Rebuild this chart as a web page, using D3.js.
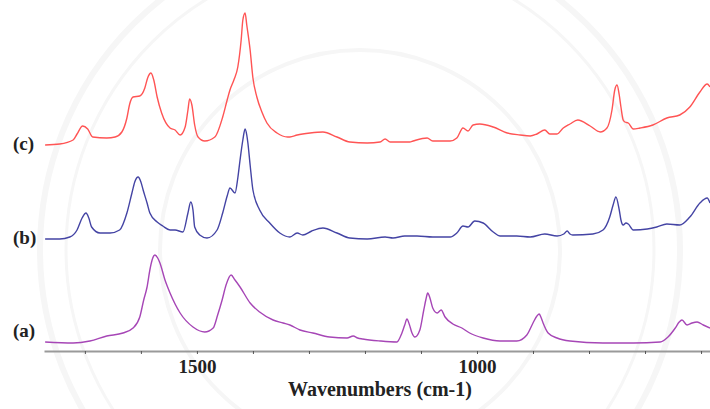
<!DOCTYPE html>
<html>
<head>
<meta charset="utf-8">
<script src="https://cdn.jsdelivr.net/npm/d3@7"></script>
<style>
  html, body { margin: 0; padding: 0; background: #ffffff; }
  svg { display: block; }
</style>
</head>
<body>
<svg id="chart" width="710" height="409"></svg>
<script>
// FTIR spectra, stacked: [wavenumber (cm-1), absorbance incl. stacking offset]
const spectrumA = [
  [1771,0.09],[1721,0.08],[1691,0.10],[1661,0.15],[1632,0.18],[1614,0.23],[1602,0.34],[1595,0.51],
  [1589,0.64],[1584,0.81],[1580,0.91],[1575,0.96],[1570,0.93],[1566,0.88],[1557,0.71],[1548,0.58],
  [1530,0.38],[1507,0.24],[1486,0.19],[1471,0.23],[1463,0.36],[1455,0.51],[1448,0.66],[1439,0.76],
  [1432,0.71],[1423,0.64],[1405,0.48],[1388,0.39],[1364,0.31],[1346,0.28],[1334,0.26],[1316,0.21],
  [1293,0.18],[1263,0.14],[1232,0.13],[1221,0.15],[1213,0.13],[1204,0.12],[1173,0.10],[1143,0.09],
  [1134,0.18],[1129,0.26],[1125,0.32],[1121,0.27],[1116,0.18],[1111,0.14],[1102,0.21],[1095,0.41],
  [1091,0.52],[1088,0.58],[1084,0.53],[1079,0.43],[1071,0.38],[1064,0.41],[1057,0.34],[1043,0.27],
  [1027,0.23],[1013,0.18],[989,0.13],[959,0.10],[929,0.10],[911,0.16],[900,0.28],[893,0.35],
  [889,0.37],[886,0.34],[882,0.28],[873,0.18],[857,0.13],[834,0.10],[775,0.08],[721,0.08],
  [673,0.09],[659,0.14],[646,0.23],[639,0.29],[634,0.31],[625,0.26],[616,0.28],[607,0.29],
  [596,0.26],[584,0.23]
];

const spectrumB = [
  [1771,1.12],[1745,1.12],[1727,1.14],[1714,1.21],[1705,1.33],[1698,1.38],[1693,1.33],[1688,1.24],
  [1673,1.18],[1655,1.18],[1638,1.21],[1625,1.38],[1616,1.58],[1611,1.69],[1605,1.74],[1600,1.69],
  [1596,1.61],[1589,1.48],[1584,1.38],[1571,1.29],[1561,1.25],[1548,1.21],[1539,1.21],[1525,1.19],
  [1516,1.38],[1511,1.49],[1507,1.41],[1504,1.24],[1495,1.16],[1482,1.13],[1464,1.21],[1454,1.38],
  [1446,1.55],[1441,1.63],[1432,1.58],[1427,1.73],[1423,1.91],[1418,2.11],[1414,2.22],[1411,2.16],
  [1409,2.08],[1405,1.86],[1400,1.61],[1388,1.41],[1370,1.28],[1352,1.18],[1334,1.14],[1321,1.18],
  [1311,1.16],[1295,1.20],[1275,1.23],[1250,1.18],[1227,1.13],[1196,1.12],[1164,1.14],[1150,1.13],
  [1129,1.15],[1107,1.15],[1079,1.14],[1048,1.14],[1036,1.18],[1025,1.25],[1016,1.24],[1004,1.30],
  [989,1.28],[971,1.19],[959,1.15],[929,1.15],[905,1.14],[879,1.17],[857,1.15],[845,1.17],
  [839,1.20],[834,1.17],[829,1.16],[793,1.17],[775,1.21],[763,1.34],[757,1.46],[752,1.54],
  [746,1.41],[743,1.31],[739,1.26],[734,1.28],[730,1.27],[721,1.21],[696,1.22],[679,1.24],
  [661,1.27],[638,1.26],[620,1.34],[602,1.48],[589,1.53],[584,1.48]
];

const spectrumC = [
  [1771,2.06],[1745,2.07],[1721,2.11],[1714,2.17],[1704,2.25],[1695,2.22],[1686,2.14],[1661,2.13],
  [1646,2.14],[1634,2.19],[1625,2.33],[1620,2.47],[1614,2.54],[1602,2.55],[1593,2.63],[1588,2.73],
  [1582,2.78],[1577,2.71],[1571,2.54],[1563,2.38],[1548,2.23],[1539,2.21],[1530,2.16],[1521,2.24],
  [1516,2.41],[1513,2.52],[1509,2.46],[1504,2.26],[1498,2.14],[1486,2.10],[1468,2.14],[1454,2.34],
  [1446,2.51],[1441,2.61],[1434,2.71],[1427,2.84],[1421,3.11],[1418,3.31],[1414,3.38],[1411,3.26],
  [1405,3.01],[1400,2.73],[1393,2.54],[1384,2.39],[1375,2.28],[1357,2.18],[1338,2.14],[1334,2.14],
  [1321,2.16],[1298,2.18],[1275,2.19],[1250,2.14],[1227,2.09],[1196,2.08],[1173,2.09],[1164,2.12],
  [1155,2.09],[1120,2.09],[1114,2.10],[1089,2.13],[1079,2.10],[1048,2.10],[1036,2.13],[1025,2.23],
  [1016,2.20],[1007,2.26],[995,2.27],[971,2.24],[946,2.18],[923,2.16],[905,2.15],[893,2.17],
  [879,2.21],[870,2.17],[857,2.17],[846,2.23],[834,2.27],[820,2.31],[798,2.25],[780,2.19],
  [768,2.23],[759,2.41],[754,2.61],[750,2.66],[746,2.56],[743,2.44],[739,2.31],[736,2.29],
  [730,2.28],[721,2.22],[709,2.23],[686,2.26],[661,2.33],[638,2.36],[620,2.44],[602,2.59],
  [589,2.67],[584,2.64]
];

const seriesNames = ["(a)", "(b)", "(c)"];
const seriesColors = ["#a646b6", "#4444a4", "#ff5454"];
const seriesLabelLevels = [0.14, 1.07, 2.01];

const tickValues = [1700, 1600, 1500, 1400, 1300, 1200, 1100, 1000, 900, 800, 700, 600];
const labelledTicks = [1500, 1000];
const axisTitle = "Wavenumbers (cm-1)";

const SERIF = "Liberation Serif";

const svg = d3.select("#chart");
const x0 = 44, x1 = 710, yBase = 351;

const x = d3.scaleLinear().domain([1773, 584]).range([x0, x1]);
const y = d3.scaleLinear().domain([0, 3.5]).range([yBase, 1]);

// faint emblem in the background
const bg = svg.append("g").attr("fill", "none").attr("stroke", "#f6f6f6");
bg.append("circle").attr("cx", 360).attr("cy", 250).attr("r", 320).attr("stroke-width", 6);
bg.append("circle").attr("cx", 360).attr("cy", 250).attr("r", 294).attr("stroke-width", 3);
bg.append("circle").attr("cx", 360).attr("cy", 250).attr("r", 200).attr("stroke-width", 4);

// spectra
const line = d3.line()
  .x(d => x(d[0]))
  .y(d => y(d[1]))
  .curve(d3.curveMonotoneX);

[spectrumA, spectrumB, spectrumC].forEach((s, i) => {
  svg.append("path")
    .datum(s)
    .attr("fill", "none")
    .attr("stroke", seriesColors[i])
    .attr("stroke-width", 1.4)
    .attr("stroke-linejoin", "round")
    .attr("d", line);
});

// trace labels
seriesNames.forEach((name, i) => {
  svg.append("text")
    .attr("x", 13)
    .attr("y", y(seriesLabelLevels[i]))
    .attr("font-family", SERIF)
    .attr("font-weight", "bold")
    .attr("font-size", 19)
    .attr("fill", "#222")
    .text(name);
});

// x axis
const axis = d3.axisBottom(x)
  .tickValues(tickValues)
  .tickSize(3)
  .tickSizeOuter(0)
  .tickPadding(6)
  .tickFormat(d => labelledTicks.includes(d) ? d3.format("d")(d) : "");

const gAxis = svg.append("g")
  .attr("transform", `translate(0,${yBase})`)
  .call(axis);

gAxis.attr("font-family", SERIF).attr("font-size", 19);
gAxis.select(".domain").attr("stroke", "#9a9a9a").attr("stroke-width", 2.2);
gAxis.selectAll(".tick line").attr("stroke", "#555").attr("stroke-width", 1);
gAxis.selectAll(".tick text")
  .attr("font-weight", "bold")
  .attr("fill", "#222");

svg.append("text")
  .attr("x", 380)
  .attr("y", 396)
  .attr("text-anchor", "middle")
  .attr("font-family", SERIF)
  .attr("font-weight", "bold")
  .attr("font-size", 20)
  .attr("fill", "#222")
  .text(axisTitle);
</script>
</body>
</html>
